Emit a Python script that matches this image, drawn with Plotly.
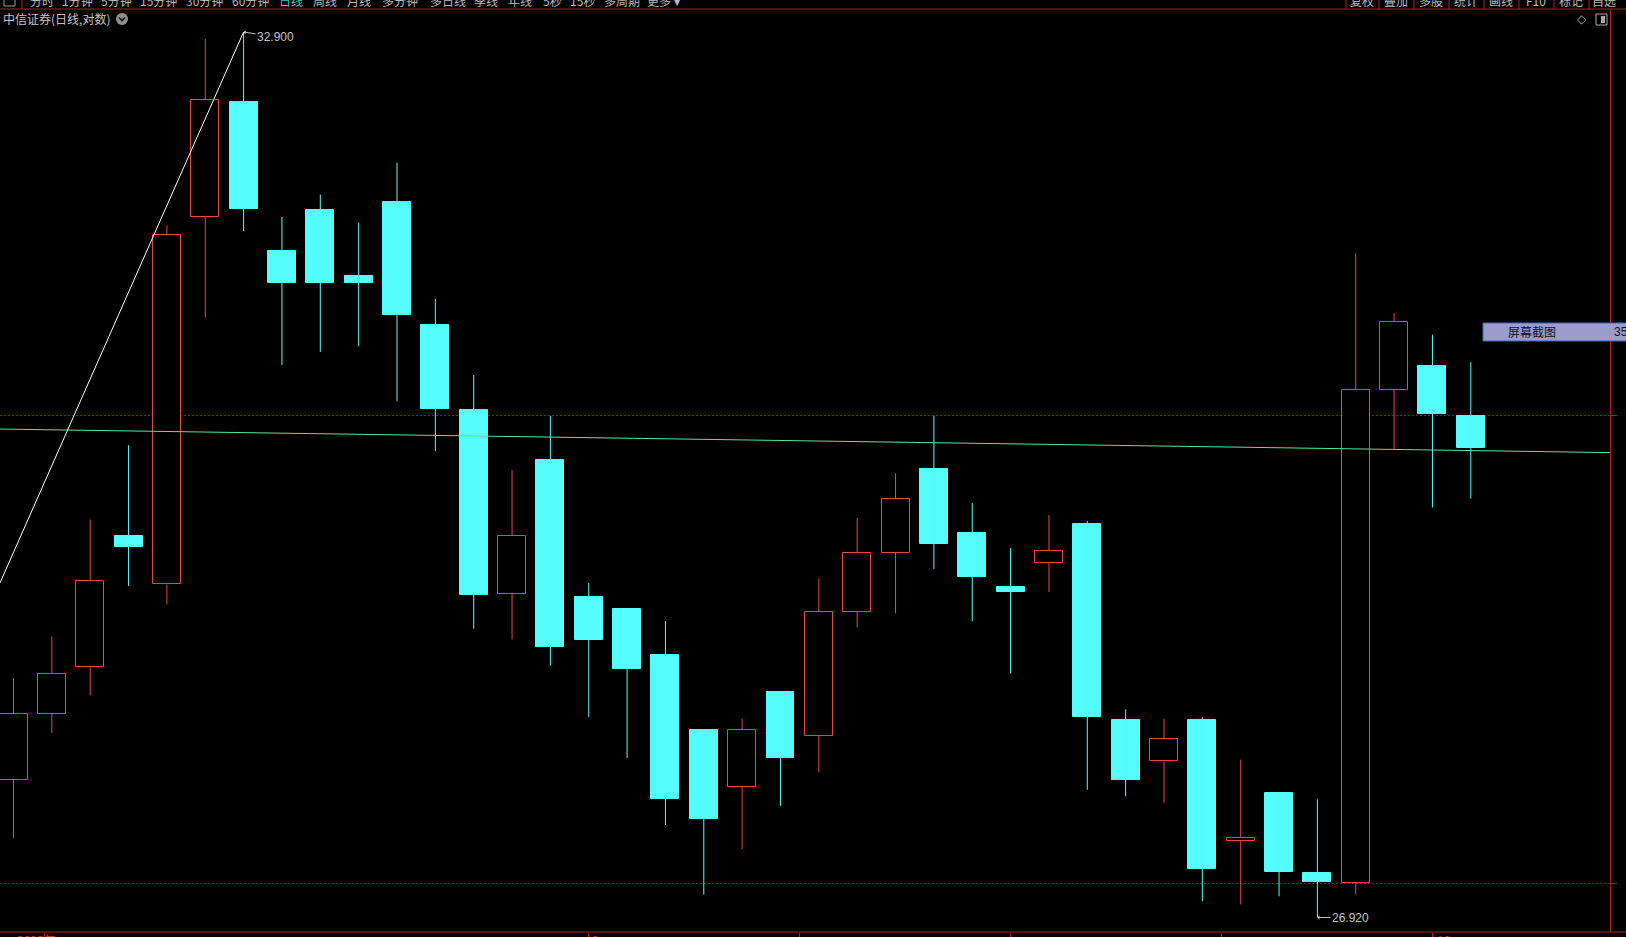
import math
import plotly.graph_objects as go

# ---------------- data ----------------
candle_idx = list(range(39))
opens  = [27.77, 28.19, 28.49, 29.35, 29.03, 31.55, 32.38, 31.31, 31.60, 31.13,
          31.66, 30.79, 30.20, 28.97, 29.86, 28.95, 28.87, 28.57, 28.09, 27.73,
          28.33, 28.05, 28.85, 29.24, 29.80, 29.37, 29.01, 29.17, 29.43, 28.15,
          27.89, 28.15, 27.39, 27.69, 27.19, 27.13, 30.34, 30.50, 30.16]
highs  = [28.42, 28.69, 29.46, 29.96, 31.49, 32.85, 32.90, 31.55, 31.71, 31.51,
          31.94, 30.97, 30.44, 29.79, 30.16, 29.04, 28.87, 28.79, 28.09, 28.16,
          28.33, 29.07, 29.47, 29.77, 30.16, 29.57, 29.27, 29.49, 29.45, 28.22,
          28.16, 28.17, 27.90, 27.69, 27.65, 31.29, 30.87, 30.72, 30.53]
lows   = [27.41, 28.07, 28.31, 29.02, 28.90, 30.84, 31.45, 30.51, 30.60, 30.64,
          30.26, 29.92, 28.74, 28.67, 28.50, 28.17, 27.91, 27.49, 27.06, 27.34,
          27.61, 27.82, 28.75, 28.84, 29.13, 28.79, 28.45, 28.98, 27.71, 27.67,
          27.63, 27.02, 27.00, 27.05, 26.92, 27.06, 29.93, 29.54, 29.60]
closes = [28.19, 28.45, 29.05, 29.28, 31.42, 32.40, 31.61, 31.08, 31.08, 31.08,
          30.86, 30.21, 28.96, 29.35, 28.62, 28.67, 28.48, 27.65, 27.53, 28.09,
          27.91, 28.85, 29.24, 29.60, 29.30, 29.08, 28.98, 29.25, 28.17, 27.77,
          28.03, 27.22, 27.41, 27.20, 27.14, 30.34, 30.81, 30.17, 29.94]

# user-drawn lines (endpoints in candle-index / price)
green_x = [-0.352, 41.63]
green_y = [30.07, 29.91]
white_x = [-0.352, 6]
white_y = [29.04, 32.90]

grid_prices = [27.13, 30.16]
xtick_idx = [0.82, 15, 20.5, 26, 31.5, 37]
xtick_text = ["2023年", "9", "10"]
xtick_text_px = [15, 590, 1435]

high_label = "32.900"
low_label = "26.920"
title_text = "中信证券(日线,对数)"

toolbar_left = ["分时", "1分钟", "5分钟", "15分钟", "30分钟", "60分钟", "日线", "周线", "月线",
                "多分钟", "多日线", "季线", "年线", "5秒", "15秒", "多周期", "更多 ▾"]
toolbar_left_px = [28, 60, 99, 138, 184, 230, 277, 311, 345, 380, 428, 472, 506, 541, 568, 602, 645]
toolbar_right = ["复权", "叠加", "多股", "统计", "画线", "F10", "标记", "自选"]
toolbar_right_px = [1362, 1396, 1431, 1466, 1501, 1536, 1571, 1604]
toolbar_sep_px = [22, 1346, 1379, 1414, 1449, 1484, 1519, 1554, 1589]

# ---------------- styling ----------------
RED = "#E84848"
CYAN = "#54FCFC"
BORDER = "#B01E1E"
GRID = "#8A1E1E"
TXT = "#C4C4C4"
FONT = "Noto Sans CJK SC"

W, H = 1626, 937
PL, PR, PT, PB = 0, 1610, 9, 932


def px(X):
    return (X - PL) / (PR - PL)


def py(Y):
    return (PB - Y) / (PB - PT)


fig = go.Figure()

# wicks
rx, ry, cx, cy = [], [], [], []
for i, o, h, l, c in zip(candle_idx, opens, highs, lows, closes):
    top, bot = max(o, c), min(o, c)
    if c >= o:
        rx += [i, i, None, i, i, None]
        ry += [h, top, None, bot, l, None]
    else:
        cx += [i, i, None]
        cy += [h, l, None]
fig.add_trace(go.Scatter(x=rx, y=ry, mode="lines", line=dict(color=RED, width=1), hoverinfo="skip"))
fig.add_trace(go.Scatter(x=cx, y=cy, mode="lines", line=dict(color=CYAN, width=1), hoverinfo="skip"))

# bodies
up = [k for k in candle_idx if closes[k] >= opens[k]]
dn = [k for k in candle_idx if closes[k] < opens[k]]
fig.add_trace(go.Bar(x=up, base=[opens[k] for k in up], y=[closes[k] - opens[k] for k in up],
                     width=0.73, marker=dict(color="#000000", line=dict(color=RED, width=1))))
fig.add_trace(go.Bar(x=dn, base=[closes[k] for k in dn], y=[opens[k] - closes[k] for k in dn],
                     width=0.73, marker=dict(color=CYAN, line=dict(color=CYAN, width=1))))

# drawn lines
fig.add_trace(go.Scatter(x=green_x, y=green_y, mode="lines", line=dict(color="#5CE3A0", width=1), hoverinfo="skip"))
fig.add_trace(go.Scatter(x=white_x, y=white_y, mode="lines", line=dict(color="#FFFFFF", width=1), hoverinfo="skip"))

shapes = []
# frame lines
shapes.append(dict(type="line", xref="paper", yref="paper", x0=px(0), x1=px(W), y0=py(PT), y1=py(PT),
                   line=dict(color=BORDER, width=1)))
shapes.append(dict(type="line", xref="paper", yref="paper", x0=px(0), x1=px(W), y0=py(PB), y1=py(PB),
                   line=dict(color=BORDER, width=1)))
for sx in toolbar_sep_px:
    shapes.append(dict(type="line", xref="paper", yref="paper", x0=px(sx), x1=px(sx), y0=py(0), y1=py(PT),
                       line=dict(color=BORDER, width=1)))
# left toolbar icon (cut)
shapes.append(dict(type="rect", xref="paper", yref="paper", x0=px(4), x1=px(15), y0=py(-4), y1=py(6),
                   line=dict(color="#9A9A9A", width=1)))
# title dropdown icon
shapes.append(dict(type="circle", xref="paper", yref="paper", x0=px(116), x1=px(128), y0=py(25), y1=py(13),
                   fillcolor="#8E8E8E", line=dict(width=0)))
shapes.append(dict(type="path", xref="paper", yref="paper",
                   path=f"M {px(119)},{py(17.5)} L {px(122)},{py(20.5)} L {px(125)},{py(17.5)}",
                   line=dict(color="#1A1A1A", width=1.6)))
# right-top panel icon
shapes.append(dict(type="rect", xref="paper", yref="paper", x0=px(1596), x1=px(1607), y0=py(25), y1=py(14),
                   line=dict(color="#A8A8A8", width=1)))
shapes.append(dict(type="rect", xref="paper", yref="paper", x0=px(1601), x1=px(1605), y0=py(23), y1=py(16),
                   fillcolor="#A8A8A8", line=dict(width=0)))
# screenshot tool label box
shapes.append(dict(type="rect", xref="paper", yref="paper", x0=px(1483), x1=px(1640), y0=py(341), y1=py(323),
                   fillcolor="#9C9CCC", line=dict(color="#3C64C8", width=1), layer="above"))

annotations = []
annotations.append(dict(xref="paper", yref="paper", x=px(1), y=py(19), xanchor="left", yanchor="middle",
                        text=title_text, showarrow=False, font=dict(family=FONT, size=12, color=TXT)))
for t, xx in zip(toolbar_left, toolbar_left_px):
    col = "#3FC6C6" if t == "日线" else "#B8B8B8"
    annotations.append(dict(xref="paper", yref="paper", x=px(xx), y=py(0.5), xanchor="left", yanchor="middle",
                            text=t, showarrow=False, font=dict(family=FONT, size=12, color=col)))
for t, xx in zip(toolbar_right, toolbar_right_px):
    annotations.append(dict(xref="paper", yref="paper", x=px(xx), y=py(0.5), xanchor="center", yanchor="middle",
                            text=t, showarrow=False, font=dict(family=FONT, size=12, color="#B8B8B8")))
annotations.append(dict(xref="paper", yref="paper", x=px(1582), y=py(19), xanchor="center", yanchor="middle",
                        text="◇", showarrow=False, font=dict(family="DejaVu Sans", size=12, color="#A8A8A8")))
# price extremes
annotations.append(dict(x=6, y=math.log10(highs[6]), text=high_label, showarrow=True, ax=32, ay=5,
                        arrowhead=1, arrowsize=0.7, arrowwidth=1, arrowcolor="#C8C8C8",
                        font=dict(family="Liberation Sans", size=12, color=TXT)))
annotations.append(dict(x=34, y=math.log10(lows[34]), text=low_label, showarrow=True, ax=33, ay=0,
                        arrowhead=1, arrowsize=0.7, arrowwidth=1, arrowcolor="#C8C8C8",
                        font=dict(family="Liberation Sans", size=12, color=TXT)))
# screenshot box text
annotations.append(dict(xref="paper", yref="paper", x=px(1506), y=py(332), xanchor="left", yanchor="middle",
                        text="屏幕截图", showarrow=False, font=dict(family=FONT, size=12, color="#101010")))
annotations.append(dict(xref="paper", yref="paper", x=px(1612), y=py(332), xanchor="left", yanchor="middle",
                        text="35", showarrow=False, font=dict(family="Liberation Sans", size=12, color="#101010")))
# bottom date labels (cut by the window edge)
for t, xx in zip(xtick_text, xtick_text_px):
    annotations.append(dict(xref="paper", yref="paper", x=px(xx), y=py(939), xanchor="left", yanchor="middle",
                            text=t, showarrow=False, font=dict(family=FONT, size=12, color="#C83A3A")))

fig.update_layout(
    width=W, height=H,
    margin=dict(l=PL, r=W - PR, t=PT, b=H - PB, pad=0),
    paper_bgcolor="#000000", plot_bgcolor="#000000",
    showlegend=False, barmode="overlay", bargap=0,
    shapes=shapes, annotations=annotations,
    xaxis=dict(range=[-0.352, 41.63], showgrid=False, zeroline=False, showline=False,
               ticks="outside", ticklen=5, tickcolor=BORDER, tickvals=xtick_idx,
               showticklabels=False),
    yaxis=dict(type="log", range=[1.42865, 1.51946], side="right", showline=True, linecolor=BORDER,
               linewidth=1, showgrid=True, gridcolor=GRID, griddash="2px,2px", gridwidth=1,
               tickvals=grid_prices, ticks="outside", ticklen=6, tickcolor=BORDER,
               showticklabels=False, zeroline=False),
)

fig.write_html("out.html", config={"displayModeBar": False},
               post_script="document.body.style.margin='0';document.body.style.overflow='hidden';")
